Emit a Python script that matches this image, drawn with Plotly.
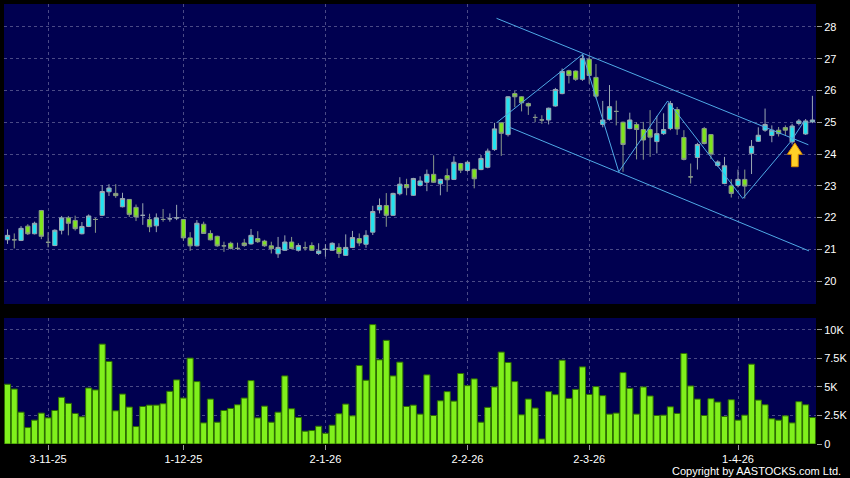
import plotly.graph_objects as go

# ---------------- data ----------------
opens = [21.30, 21.30, 21.28, 21.73, 21.49, 22.22, 21.22, 21.12, 21.60, 21.99,
         21.91, 21.49, 21.72, 21.94, 22.07, 22.81, 22.76, 22.34, 22.57, 22.32,
         22.07, 21.94, 21.74, 21.94, 21.96, 21.99, 21.94, 21.36, 21.11, 21.79,
         21.50, 21.41, 21.11, 21.19, 21.03, 21.20, 21.17, 21.34, 21.26, 21.11,
         20.86, 20.97, 21.23, 20.97, 21.05, 21.12, 20.87, 21.00, 20.97, 21.06,
         20.81, 21.06, 21.34, 21.16, 21.54, 22.24, 22.38, 22.07, 22.75, 23.04,
         22.70, 23.01, 23.11, 23.36, 23.06, 23.32, 23.20, 23.70, 23.48, 23.52,
         23.51, 23.58, 24.14, 24.98, 24.61, 25.90, 25.80, 25.59, 25.15, 25.07,
         25.07, 25.51, 25.90, 26.62, 26.61, 26.35, 26.98, 26.41, 24.93, 25.09,
         25.34, 25.00, 24.80, 24.93, 24.77, 24.77, 24.39, 24.64, 24.80, 25.40,
         24.52, 23.28, 23.89, 24.80, 24.61, 23.64, 23.07, 23.00, 23.01, 23.20,
         24.02, 24.40, 24.75, 24.58, 24.75, 24.83, 24.38, 24.96, 24.63, 25.01]
highs = [21.63, 21.50, 21.73, 21.79, 21.87, 22.24, 21.54, 21.63, 22.05, 22.05,
         22.06, 21.86, 22.10, 21.99, 23.02, 23.05, 23.05, 22.78, 22.57, 22.41,
         22.45, 22.12, 22.13, 22.27, 22.13, 22.40, 21.94, 21.54, 21.92, 21.87,
         21.60, 21.43, 21.24, 21.24, 21.21, 21.33, 21.64, 21.57, 21.30, 21.24,
         21.39, 21.44, 21.39, 21.19, 21.24, 21.22, 21.19, 21.16, 21.22, 21.19,
         21.47, 21.58, 21.50, 21.60, 22.37, 22.60, 22.77, 22.78, 23.27, 23.22,
         23.25, 23.30, 23.51, 23.96, 23.22, 23.54, 23.93, 23.72, 23.78, 23.54,
         23.97, 24.17, 24.98, 25.00, 25.82, 25.98, 25.82, 25.62, 25.25, 25.22,
         25.46, 26.08, 26.69, 26.65, 26.63, 27.14, 27.10, 26.83, 25.67, 26.17,
         25.68, 25.02, 25.30, 25.00, 25.01, 25.38, 25.20, 25.28, 25.67, 25.48,
         24.75, 23.70, 24.35, 24.85, 24.63, 23.80, 23.91, 23.21, 23.51, 23.51,
         24.44, 24.84, 25.43, 24.90, 24.85, 24.90, 24.95, 25.10, 25.10, 25.83]
lows = [21.17, 21.03, 21.26, 21.45, 21.47, 21.32, 21.06, 21.10, 21.47, 21.44,
        21.59, 21.47, 21.70, 21.52, 22.05, 22.68, 22.62, 22.32, 22.02, 21.89,
        21.77, 21.54, 21.54, 21.87, 21.87, 21.92, 21.27, 20.95, 21.09, 21.49,
        21.28, 21.08, 20.92, 21.00, 20.98, 21.08, 21.15, 21.20, 21.08, 20.87,
        20.73, 20.95, 21.00, 20.93, 20.96, 20.95, 20.82, 20.77, 20.95, 20.73,
        20.79, 21.04, 21.10, 21.05, 21.45, 22.13, 21.71, 22.05, 22.70, 22.70,
        22.68, 22.98, 22.83, 23.09, 22.70, 22.81, 23.18, 23.40, 23.44, 22.92,
        23.49, 23.55, 24.10, 23.94, 24.55, 25.47, 25.34, 25.23, 25.00, 24.95,
        24.93, 25.49, 25.88, 26.22, 26.30, 26.30, 26.21, 25.75, 24.84, 25.05,
        24.90, 23.44, 24.78, 23.83, 23.82, 23.91, 24.02, 24.60, 24.75, 24.60,
        23.80, 23.07, 23.51, 24.30, 23.84, 23.60, 23.05, 22.63, 22.95, 22.60,
        23.37, 24.38, 24.70, 24.37, 24.55, 24.60, 24.30, 24.90, 24.60, 24.97]
closes = [21.44, 21.30, 21.66, 21.49, 21.82, 21.41, 21.22, 21.60, 21.99, 21.82,
          21.65, 21.72, 22.05, 21.94, 22.82, 22.93, 22.69, 22.60, 22.10, 22.02,
          22.07, 21.71, 21.99, 21.94, 21.96, 21.99, 21.36, 21.11, 21.82, 21.50,
          21.30, 21.11, 21.11, 21.03, 21.03, 21.12, 21.44, 21.24, 21.11, 21.02,
          21.06, 21.23, 21.03, 21.12, 21.05, 20.97, 20.95, 21.00, 21.19, 20.87,
          21.06, 21.37, 21.20, 21.44, 22.19, 22.38, 22.07, 22.76, 23.05, 22.94,
          23.23, 23.15, 23.36, 23.11, 23.20, 23.19, 23.74, 23.49, 23.74, 23.22,
          23.86, 24.09, 24.79, 24.65, 25.80, 25.80, 25.61, 25.51, 25.15, 25.07,
          25.44, 26.03, 26.60, 26.47, 26.35, 27.00, 26.47, 25.82, 25.07, 25.49,
          25.34, 24.30, 25.07, 24.77, 24.44, 24.53, 24.64, 24.77, 25.59, 24.79,
          23.83, 23.28, 24.30, 24.33, 24.00, 23.75, 23.63, 22.76, 23.20, 22.99,
          24.24, 24.59, 24.93, 24.75, 24.64, 24.75, 24.88, 25.04, 25.04, 25.07]
volume_k = [5.24, 4.82, 2.79, 1.44, 2.09, 2.71, 2.29, 2.94, 4.09, 3.56,
            2.68, 2.38, 4.91, 4.74, 8.76, 7.24, 2.91, 4.38, 3.24, 1.53,
            3.29, 3.41, 3.41, 3.53, 4.62, 5.62, 4.03, 7.53, 5.47, 1.85,
            3.94, 1.91, 2.94, 3.12, 3.44, 4.03, 5.56, 2.29, 3.32, 1.91,
            2.79, 5.97, 3.09, 2.32, 1.12, 1.18, 1.56, 0.94, 1.65, 2.65,
            3.50, 2.47, 6.88, 5.59, 10.47, 7.38, 9.09, 5.97, 7.18, 3.29,
            3.41, 2.62, 6.06, 2.50, 3.79, 4.59, 3.76, 6.18, 5.12, 5.71,
            1.91, 3.21, 5.00, 8.06, 7.15, 5.47, 2.56, 3.94, 3.15, 0.44,
            4.59, 4.32, 7.35, 4.00, 4.79, 6.76, 4.35, 5.03, 4.24, 2.62,
            2.71, 6.26, 4.88, 2.62, 5.00, 4.21, 2.50, 2.53, 3.26, 2.68,
            7.94, 5.09, 3.94, 2.50, 3.97, 3.68, 2.41, 3.88, 2.09, 2.53,
            7.00, 3.85, 3.44, 2.21, 2.09, 2.47, 1.85, 3.71, 3.44, 2.32]

date_tick_index = [6, 26, 47, 68, 86, 108]
date_tick_labels = ["3-11-25", "1-12-25", "2-1-26", "2-2-26", "2-3-26", "1-4-26"]
price_ticks = [20, 21, 22, 23, 24, 25, 26, 27, 28]
volume_ticks = [0, 2500, 5000, 7500, 10000]
volume_tick_labels = ["0", "2.5K", "5K", "7.5K", "10K"]

# drawn trend lines (bar index, price)
upper_channel_x = [72.3, 118.4]
upper_channel_y = [28.27, 24.29]
lower_channel_x = [74.1, 118.5]
lower_channel_y = [24.85, 20.95]
zigzag_x = [72.35, 85.05, 90.37, 97.6, 108.7, 115.8, 117.8]
zigzag_y = [24.99, 27.14, 23.44, 25.67, 22.60, 24.39, 25.04]
arrow_bar = 116.4
arrow_tip_price = 24.35

# ---------------- figure ----------------
idx = list(range(len(opens)))
volumes = [v * 1000 for v in volume_k]

FONT = "Arial, Liberation Sans, sans-serif"
NAVY = "#000050"
GRID = "#4a4a86"
LINE = "#4fa9e6"

fig = go.Figure()

fig.add_trace(go.Candlestick(
    x=idx, open=opens, high=highs, low=lows, close=closes,
    xaxis="x", yaxis="y",
    increasing=dict(line=dict(color="#9aa8b2", width=1), fillcolor="#22e3f0"),
    decreasing=dict(line=dict(color="#8a9a8a", width=1), fillcolor="#7ee51c"),
    whiskerwidth=0, showlegend=False, hoverinfo="skip",
))

for lx, ly in ((upper_channel_x, upper_channel_y),
               (lower_channel_x, lower_channel_y),
               (zigzag_x, zigzag_y)):
    fig.add_trace(go.Scatter(x=lx, y=ly, mode="lines",
                             line=dict(color=LINE, width=1), xaxis="x", yaxis="y",
                             showlegend=False, hoverinfo="skip"))

# block arrow built around its anchor
hw_head, hw_stem = 1.1, 0.5
head_h, stem_h = 0.36, 0.39
ax = [arrow_bar, arrow_bar + hw_head, arrow_bar + hw_stem, arrow_bar + hw_stem,
      arrow_bar - hw_stem, arrow_bar - hw_stem, arrow_bar - hw_head, arrow_bar]
ay = [arrow_tip_price, arrow_tip_price - head_h, arrow_tip_price - head_h,
      arrow_tip_price - head_h - stem_h, arrow_tip_price - head_h - stem_h,
      arrow_tip_price - head_h, arrow_tip_price - head_h, arrow_tip_price]
fig.add_trace(go.Scatter(x=ax, y=ay, mode="lines", fill="toself",
                         fillcolor="#ffd028", line=dict(color="#d98a00", width=1),
                         xaxis="x", yaxis="y", showlegend=False, hoverinfo="skip"))

fig.add_trace(go.Bar(
    x=idx, y=volumes, xaxis="x2", yaxis="y2",
    marker=dict(color="#80f01c", line=dict(color="#2e6e00", width=1)),
    showlegend=False, hoverinfo="skip",
))

def axis_style(ticks="outside"):
    return dict(showline=False, zeroline=False, gridcolor=GRID, griddash="3px,3px",
                gridwidth=1, tickfont=dict(family=FONT, size=11, color="#ffffff"),
                ticks=ticks, ticklen=5, tickcolor="#9a9a9a", tickwidth=1)

XR = [-0.52, 119.53]
fig.update_layout(
    width=850, height=478,
    margin=dict(l=4, r=34, t=4, b=34, autoexpand=False),
    paper_bgcolor="#000000",
    plot_bgcolor=NAVY,
    bargap=0.1,
    boxgap=0.1,
    xaxis=dict(domain=[0, 1], anchor="y", range=XR, tickvals=date_tick_index,
               showticklabels=False, rangeslider=dict(visible=False), **axis_style("")),
    xaxis2=dict(domain=[0, 1], anchor="y2", matches="x", range=XR,
                tickvals=date_tick_index, ticktext=date_tick_labels, **axis_style()),
    yaxis=dict(domain=[0.3182, 1], anchor="x", side="right", range=[19.28, 28.72],
               tickvals=price_ticks, **axis_style()),
    yaxis2=dict(domain=[0, 0.2864], anchor="x2", side="right", range=[0, 11050],
                tickvals=volume_ticks, ticktext=volume_tick_labels, **axis_style()),
    annotations=[dict(text="Copyright by AASTOCKS.com Ltd.", xref="paper", yref="paper",
                      x=1.033, y=-0.0614, xanchor="right", yanchor="middle",
                      showarrow=False,
                      font=dict(family=FONT, size=11, color="#ffffff"))],
)

fig.write_html("out.html",
               config={"displayModeBar": False},
               post_script="document.body.style.margin='0';"
                           "document.body.style.background='#000';")
